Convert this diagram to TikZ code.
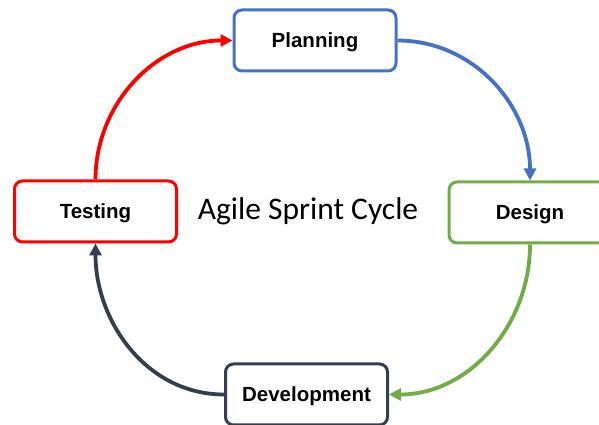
\documentclass[tikz,border=0pt]{standalone}
\usepackage{fontspec}
\setmainfont{Liberation Sans}
\newfontfamily\titlefont{Carlito}
\usetikzlibrary{arrows.meta}
\definecolor{planblue}{HTML}{4472C4}
\definecolor{designgreen}{HTML}{70AD47}
\definecolor{devnavy}{HTML}{333F50}
\definecolor{testred}{HTML}{FF0000}
\tikzset{
  stage/.style={draw, line width=3pt, rounded corners=8pt, fill=white, align=center,
    minimum width=162pt, minimum height=61pt, inner sep=4pt, text depth=0pt,
    font=\fontsize{20.5}{23}\selectfont\bfseries},
  flow/.style={-{Triangle[length=12pt,width=12pt]}, line width=3.8pt}
}

\begin{document}
\begin{tikzpicture}[x=1pt, y=1pt]
  \clip (0,0) rectangle (599,425);
  \fill[white] (0,0) rectangle (599,425);

  \node[stage, draw=planblue] (plan) at (315,384.5) {Planning};
  \node[stage, draw=designgreen] (design) at (530,212.5) {Design};
  \node[stage, draw=devnavy] (dev) at (306.5,30.5) {Development};
  \node[stage, draw=testred] (test) at (95.5,213.5) {Testing};

  \node[font=\titlefont\fontsize{31.5}{36}\selectfont] (title) at (308,214) {Agile Sprint Cycle};

  \draw[flow, planblue] (plan.east) to[out=0, in=90] (design.north);
  \draw[flow, designgreen] (design.south) to[out=270, in=0] (dev.east);
  \draw[flow, devnavy] (dev.west) to[out=180, in=270] (test.south);
  \draw[flow, testred] (test.north) to[out=90, in=180] (plan.west);
\end{tikzpicture}
\end{document}
